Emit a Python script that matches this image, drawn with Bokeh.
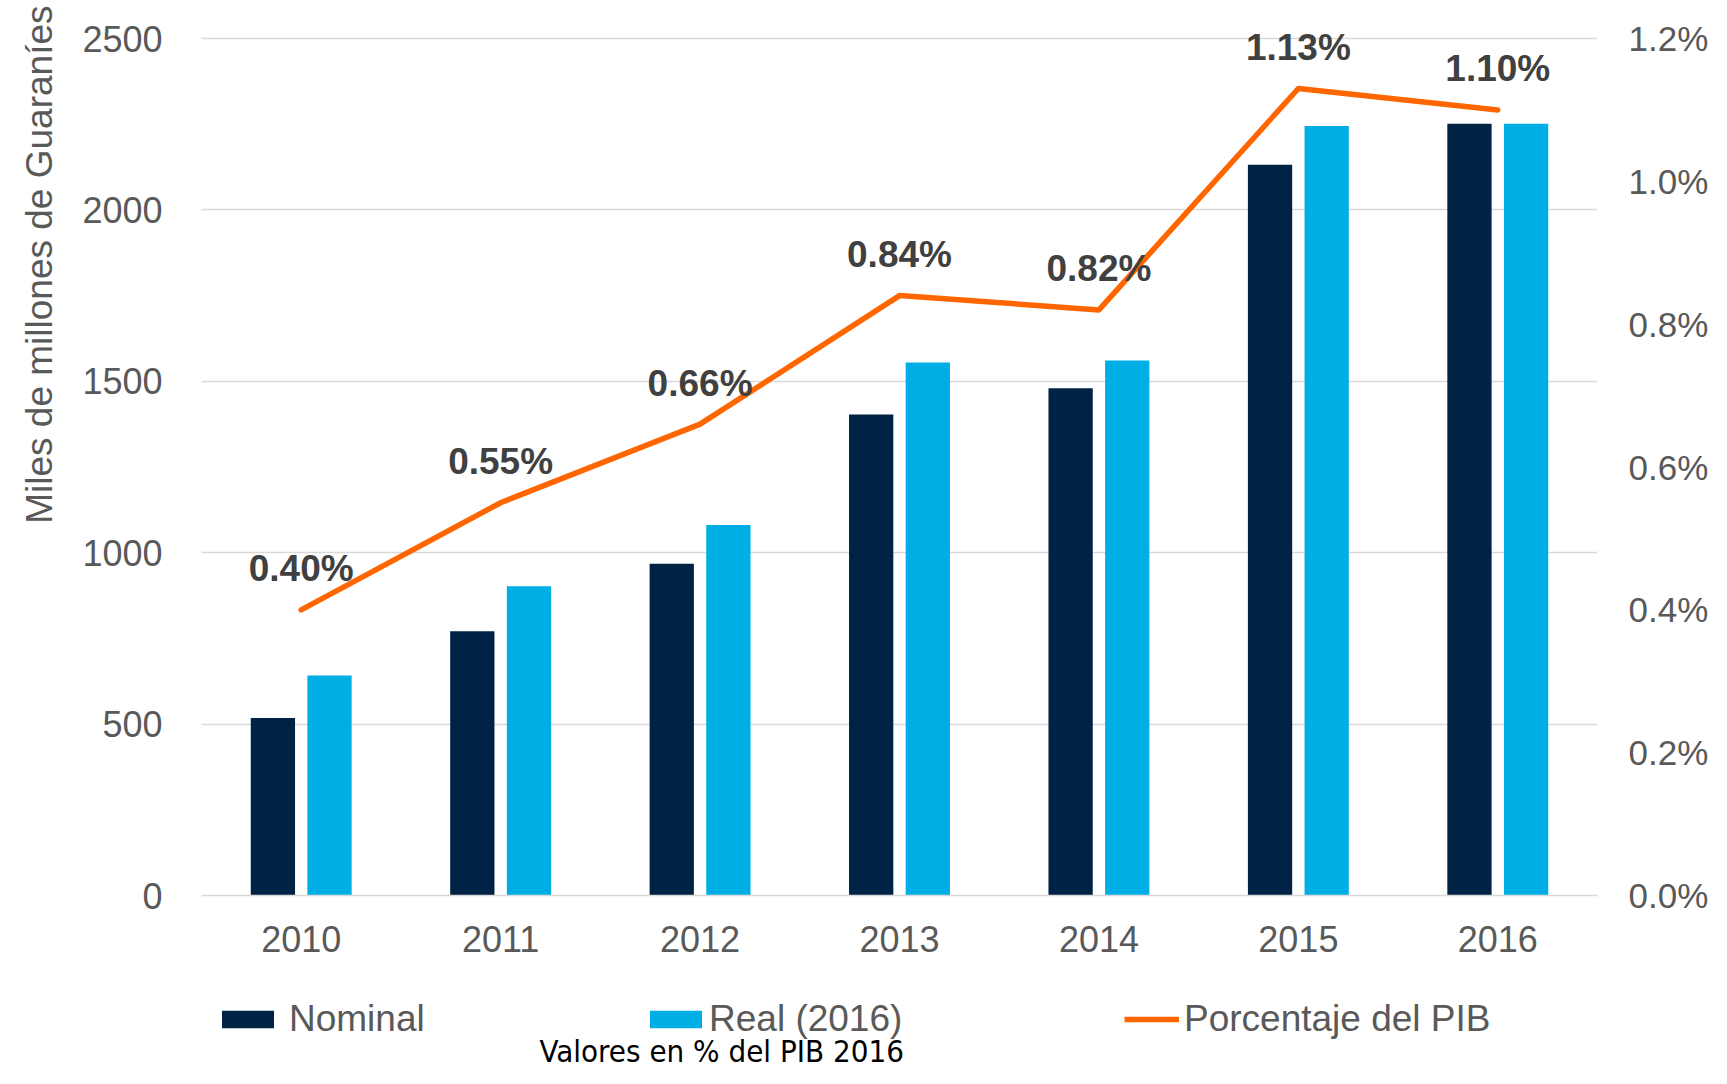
from bokeh.plotting import figure
from bokeh.layouts import column
from bokeh.models import (FactorRange, Range1d, LinearAxis, FixedTicker, PrintfTickFormatter,
                          Legend, LegendItem, Title, Label, ColumnDataSource)
from bokeh.transform import dodge
from bokeh.core.properties import value
from bokeh.embed import file_html
from bokeh.resources import INLINE

# ---- data ----
years = ["2010", "2011", "2012", "2013", "2014", "2015", "2016"]
nominal = [518, 771, 968, 1403, 1480, 2132, 2251]
real = [642, 902, 1081, 1555, 1561, 2245, 2251]
pct = [0.40, 0.55, 0.66, 0.84, 0.82, 1.13, 1.10]
pct_labels = ["0.40%", "0.55%", "0.66%", "0.84%", "0.82%", "1.13%", "1.10%"]
left_ticks = [0, 500, 1000, 1500, 2000, 2500]
right_ticks = [0.0, 0.2, 0.4, 0.6, 0.8, 1.0, 1.2]
series_names = ["Nominal", "Real (2016)", "Porcentaje del PIB"]
note = "Valores en % del PIB 2016"

NAVY = "#002244"
CYAN = "#00AEE6"
ORANGE = "#FF6600"
GREY_TXT = "#595959"
FONT = "Liberation Sans"

W = 1711
H_MAIN, H_FOOT = 975, 93
BL, BR, BT, BB = 198, 108, 10, 80
frame_h = H_MAIN - BT - BB
y_end = frame_h / (frame_h - 28) * 2500

src = ColumnDataSource(dict(year=years, nominal=nominal, real=real, pct=pct, lab=pct_labels))

p = figure(width=W, height=H_MAIN, output_backend="svg", toolbar_location=None, title=None,
           x_range=FactorRange(factors=years, range_padding=0),
           y_range=Range1d(0, y_end),
           min_border_left=BL, min_border_right=BR, min_border_top=BT, min_border_bottom=BB)
p.outline_line_color = None
p.background_fill_color = "white"
p.extra_y_ranges = {"pct": Range1d(0, y_end / 2500 * 1.2)}

r_nom = p.vbar(x=dodge("year", -0.142, range=p.x_range), top="nominal", width=0.222,
               source=src, fill_color=NAVY, line_color=None)
r_real = p.vbar(x=dodge("year", 0.142, range=p.x_range), top="real", width=0.222,
                source=src, fill_color=CYAN, line_color=None)
r_line = p.line(x="year", y="pct", source=src, y_range_name="pct", line_color=ORANGE,
                line_width=5.5, line_cap="round", line_join="round")
p.text(x="year", y="pct", text="lab", source=src, y_range_name="pct",
       text_font=value(FONT), text_font_style="bold", text_font_size="37px",
       text_color="#404040", text_align="center", text_baseline="middle", y_offset=-41)

# grid
p.xgrid.grid_line_color = None
p.ygrid.ticker = FixedTicker(ticks=left_ticks[1:])
p.ygrid.grid_line_color = "#D9D9D9"
p.ygrid.grid_line_width = 1.5

# axes
p.xaxis.axis_line_color = "#D9D9D9"
p.xaxis.axis_line_width = 1.5
p.xaxis.major_tick_line_color = None
p.xaxis.minor_tick_line_color = None
p.xaxis.major_label_text_font = FONT
p.xaxis.major_label_text_font_size = "36px"
p.xaxis.major_label_text_color = GREY_TXT
p.xaxis.major_label_standoff = 24

p.yaxis.ticker = FixedTicker(ticks=left_ticks)
p.yaxis.axis_line_color = None
p.yaxis.major_tick_line_color = None
p.yaxis.minor_tick_line_color = None
p.yaxis.major_label_text_font = FONT
p.yaxis.major_label_text_font_size = "36px"
p.yaxis.major_label_text_color = GREY_TXT
p.yaxis.major_label_standoff = 33

ra = LinearAxis(y_range_name="pct", ticker=FixedTicker(ticks=right_ticks),
                formatter=PrintfTickFormatter(format="%.1f%%"))
ra.axis_line_color = None
ra.major_tick_line_color = None
ra.minor_tick_line_color = None
ra.major_label_text_font = FONT
ra.major_label_text_font_size = "35px"
ra.major_label_text_color = GREY_TXT
ra.major_label_standoff = 25
p.add_layout(ra, "right")

# y axis title, aligned towards the top as in the original
p.add_layout(Title(text="Miles de millones de Guaraníes", align="right", vertical_align="top",
                   standoff=36, offset=-5, text_font=FONT, text_font_size="37px",
                   text_font_style="normal", text_color=GREY_TXT), "left")

# ---- footer strip: legend + note (its frame is aligned with the chart frame) ----
f = figure(width=W, height=H_FOOT, output_backend="svg", toolbar_location=None, title=None,
           x_range=Range1d(BL, W - 113), y_range=Range1d(0, H_FOOT),
           x_axis_location=None, y_axis_location=None,
           min_border_left=0, min_border_right=0, min_border_top=0, min_border_bottom=0)
f.outline_line_color = None
f.grid.grid_line_color = None
# legend proxies: one zero-size point each, placed outside the visible range
k_nom = f.vbar(x=[-100], top=[0], width=0, fill_color=NAVY, line_color=None)
k_real = f.vbar(x=[-100], top=[0], width=0, fill_color=CYAN, line_color=None)
k_line = f.line(x=[-100, -99], y=[0, 0], line_color=ORANGE, line_width=5.5)

def add_legend(label, rend, x, standoff, gw, gh):
    lg = Legend(items=[LegendItem(label=label, renderers=[rend])], location=(x - BL, 24),
                orientation="horizontal", padding=0, margin=0, border_line_color=None,
                background_fill_alpha=0, glyph_width=gw, glyph_height=gh, label_height=50,
                label_standoff=standoff, label_text_font=FONT, label_text_font_size="37px",
                label_text_color=GREY_TXT)
    f.add_layout(lg, "center")

add_legend(series_names[0], k_nom, 212, 9, 65, 22)
add_legend(series_names[1], k_real, 640, 1, 65, 22)
add_legend(series_names[2], k_line, 1121, 5, 55, 18)

f.add_layout(Label(x=537, y=0, text=note, text_align="left", text_baseline="bottom",
                   text_font="DejaVu Sans Condensed", text_font_size="31px", text_color="black"))

open("out.html", "w").write(file_html(column(p, f, spacing=0), INLINE))
